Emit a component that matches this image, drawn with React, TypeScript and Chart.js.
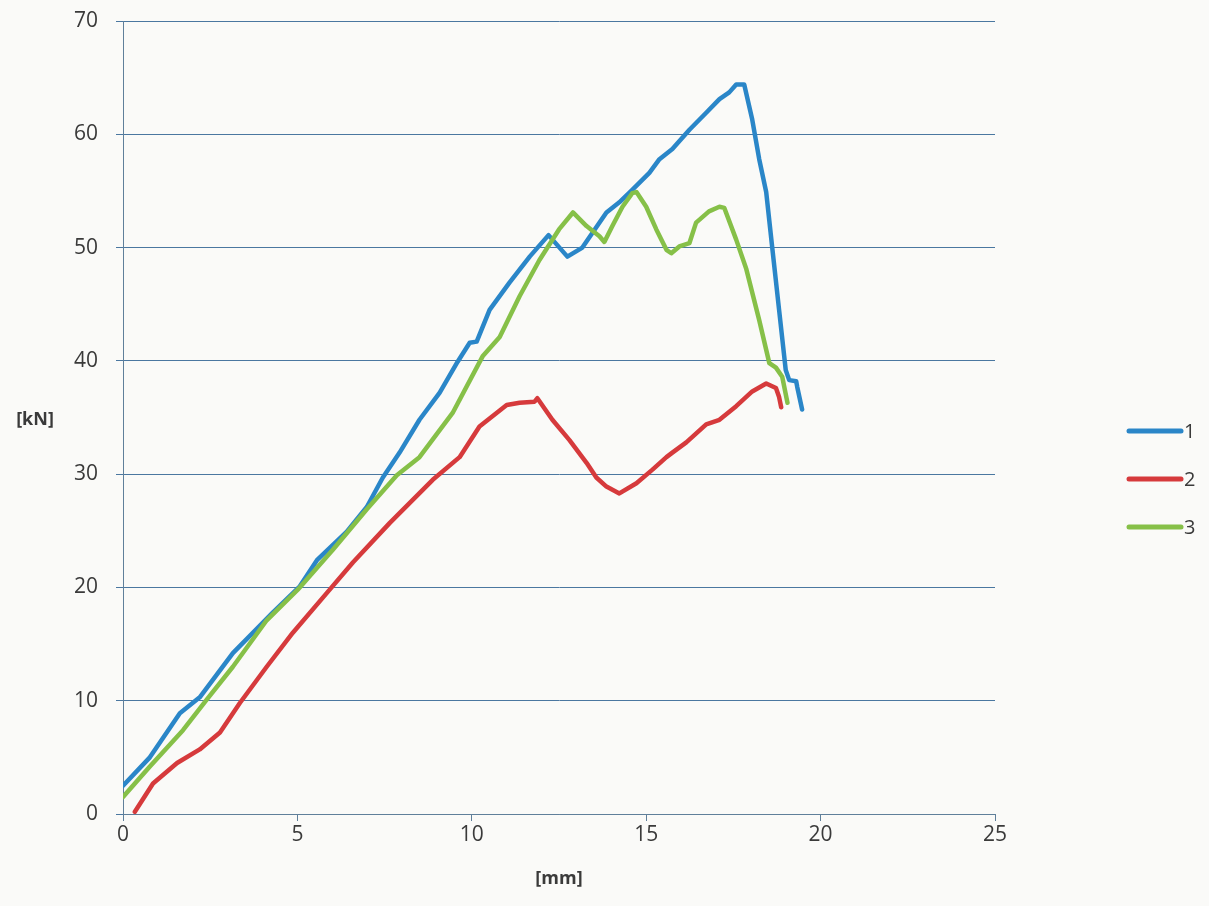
import React, { useEffect, useRef } from "react";
import { Chart, registerables } from "chart.js";
Chart.register(...registerables);

const seriesLabels = ["1", "2", "3"];
const seriesColors = ["#2a86c8", "#d63a3c", "#86c048"];

const s1X = [0, 0.77, 1.63, 2.2, 3.15, 4.3, 5.07, 5.56, 6.41, 6.99, 7.45, 7.93, 8.5, 9.08, 9.59, 9.94, 10.14, 10.51, 11.08, 11.66, 12.2, 12.74, 13.17, 13.86, 14.23, 14.6, 15.09, 15.38, 15.75, 16.24, 16.72, 17.1, 17.38, 17.58, 17.81, 18.04, 18.24, 18.44, 18.61, 18.81, 19.0, 19.1, 19.3, 19.33, 19.47];
const s1Y = [2.5, 5.0, 8.9, 10.3, 14.2, 17.8, 20.1, 22.4, 24.9, 27.1, 29.7, 31.9, 34.8, 37.2, 39.9, 41.6, 41.7, 44.5, 46.9, 49.2, 51.1, 49.2, 50.0, 53.1, 54.0, 55.1, 56.6, 57.8, 58.7, 60.4, 61.9, 63.1, 63.7, 64.4, 64.4, 61.3, 57.8, 54.9, 50.1, 44.5, 39.2, 38.3, 38.2, 37.7, 35.7];

const s2X = [0.34, 0.86, 1.55, 2.2, 2.78, 3.35, 4.12, 4.87, 5.84, 6.59, 7.65, 8.88, 9.65, 10.22, 11.0, 11.37, 11.8, 11.88, 12.31, 12.8, 13.29, 13.57, 13.86, 14.23, 14.72, 15.18, 15.58, 15.75, 16.15, 16.72, 17.1, 17.58, 18.04, 18.44, 18.72, 18.81, 18.87];
const s2Y = [0.2, 2.7, 4.5, 5.7, 7.2, 9.8, 13.0, 16.0, 19.5, 22.2, 25.7, 29.5, 31.5, 34.2, 36.1, 36.3, 36.4, 36.7, 34.8, 33.0, 31.0, 29.7, 28.9, 28.3, 29.2, 30.4, 31.5, 31.9, 32.8, 34.4, 34.8, 36.0, 37.3, 38.0, 37.6, 36.8, 35.9];

const s3X = [0, 0.77, 1.72, 2.4, 3.15, 4.12, 5.01, 6.01, 6.99, 7.85, 8.5, 9.45, 10.31, 10.8, 11.37, 11.94, 12.5, 12.9, 13.29, 13.66, 13.8, 14.03, 14.32, 14.6, 14.72, 15.0, 15.29, 15.58, 15.72, 15.95, 16.24, 16.43, 16.8, 17.1, 17.24, 17.58, 17.87, 18.24, 18.53, 18.72, 18.9, 19.05];
const s3Y = [1.5, 4.2, 7.4, 10.1, 13.0, 17.1, 19.8, 23.3, 26.9, 29.9, 31.5, 35.4, 40.4, 42.1, 45.7, 48.9, 51.6, 53.1, 51.9, 51.0, 50.5, 51.9, 53.6, 54.8, 54.9, 53.6, 51.6, 49.8, 49.5, 50.1, 50.4, 52.2, 53.2, 53.6, 53.5, 50.7, 48.1, 43.6, 39.8, 39.4, 38.6, 36.3];

const xAxisTitle = "[mm]";
const yAxisTitle = "[kN]";
const xMin = 0, xMax = 25, xStep = 5;
const yMin = 0, yMax = 70, yStep = 10;

const FONT = "'Open Sans', 'Noto Sans', sans-serif";
const GRID = "#4a77a0";
const AXIS = "#5f7f9a";
const TEXT = "#3a3a3a";

const toPoints = (xs: number[], ys: number[]) => xs.map((x, i) => ({ x, y: ys[i] }));

export default function App() {
  const ref = useRef<HTMLCanvasElement>(null);
  useEffect(() => {
    document.body.style.margin = "0";
    const canvas = ref.current!;
    const allX = [s1X, s2X, s3X];
    const allY = [s1Y, s2Y, s3Y];

    const bgPlugin = {
      id: "bg",
      beforeDraw(chart: any) {
        const c = chart.ctx;
        c.save();
        c.fillStyle = "#fafaf8";
        c.fillRect(0, 0, chart.width, chart.height);
        c.restore();
      },
    };

    const extrasPlugin = {
      id: "extras",
      afterDraw(chart: any) {
        const c = chart.ctx;
        const area = chart.chartArea;
        c.save();
        c.fillStyle = TEXT;
        c.font = `bold 18px ${FONT}`;
        c.textAlign = "center";
        c.textBaseline = "middle";
        c.fillText(xAxisTitle, (area.left + area.right) / 2, 879);
        c.fillText(yAxisTitle, 35, 420);
        const ys = [431, 479, 527];
        chart.data.datasets.forEach((ds: any, i: number) => {
          c.strokeStyle = ds.borderColor;
          c.lineWidth = 5;
          c.lineCap = "round";
          c.beginPath();
          c.moveTo(1129, ys[i]);
          c.lineTo(1181, ys[i]);
          c.stroke();
          c.fillStyle = TEXT;
          c.font = `20px ${FONT}`;
          c.textAlign = "left";
          c.textBaseline = "middle";
          c.fillText(ds.label, 1184, ys[i] + 1);
        });
        c.restore();
      },
    };

    const chart = new Chart(canvas, {
      type: "scatter",
      data: {
        datasets: seriesLabels.map((label, i) => ({
          label,
          data: toPoints(allX[i], allY[i]),
          showLine: true,
          borderColor: seriesColors[i],
          backgroundColor: seriesColors[i],
          borderWidth: 4.5,
          pointRadius: 0,
          tension: 0,
          fill: false,
          borderJoinStyle: "round",
          borderCapStyle: "round",
          order: 3 - i,
        })) as any,
      },
      options: {
        responsive: false,
        animation: false,
        layout: { autoPadding: false, padding: { left: 0, right: 214, top: 21, bottom: 0 } },
        plugins: { legend: { display: false }, tooltip: { enabled: false } },
        scales: {
          x: {
            type: "linear",
            min: xMin,
            max: xMax,
            ticks: { stepSize: xStep, color: TEXT, font: { family: FONT, size: 21 }, padding: 1 },
            grid: { drawOnChartArea: false, drawTicks: true, tickLength: 7, color: AXIS },
            border: { color: AXIS, width: 1 },
            afterFit: (s: any) => { s.height = 92; s.paddingLeft = 0; s.paddingRight = 0; },
          },
          y: {
            type: "linear",
            min: yMin,
            max: yMax,
            ticks: { stepSize: yStep, color: TEXT, font: { family: FONT, size: 21 }, padding: 18 },
            grid: { color: GRID, tickLength: 7, lineWidth: 1 },
            border: { color: AXIS, width: 1 },
            afterFit: (s: any) => { s.width = 123; s.paddingTop = 0; s.paddingBottom = 0; },
          },
        },
      } as any,
      plugins: [bgPlugin, extrasPlugin],
    });
    return () => chart.destroy();
  }, []);
  return (
    <div style={{ width: 1209, height: 906, background: "#fafaf8" }}>
      <canvas ref={ref} width={1209} height={906} style={{ display: "block" }} />
    </div>
  );
}
